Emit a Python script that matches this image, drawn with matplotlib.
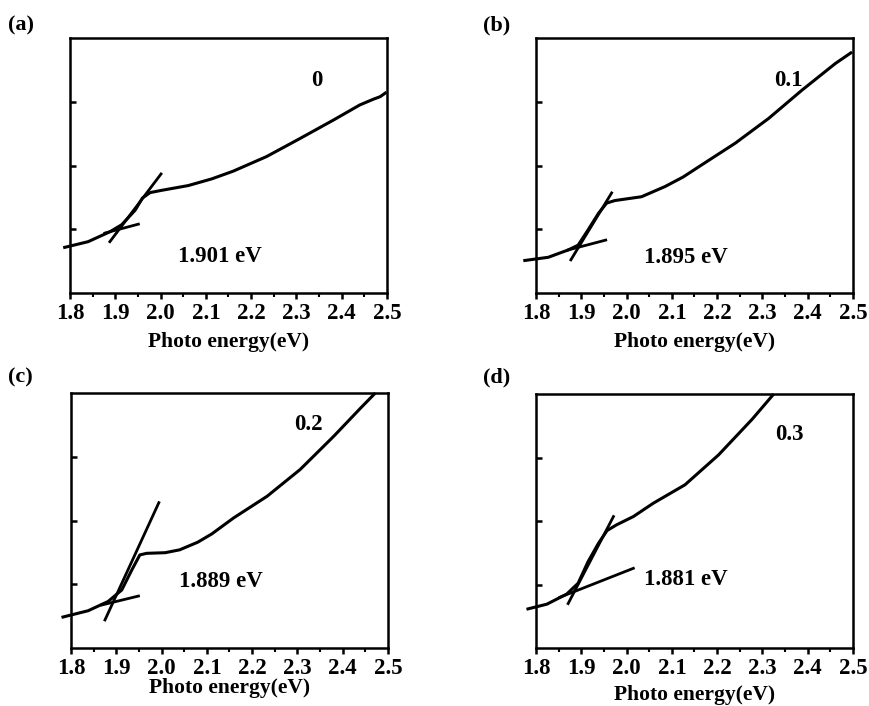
import matplotlib.pyplot as plt
import numpy as np

plt.rcParams['font.family'] = ['Liberation Serif', 'DejaVu Serif']
plt.rcParams['font.weight'] = 'bold'

# absorption curves, (x in eV, y in arbitrary units 0-4)
x_a = [1.785, 1.840, 1.888, 1.914, 1.944, 1.960, 1.977, 2.002, 2.061, 2.113, 2.16,
       2.234, 2.307, 2.381, 2.44, 2.47, 2.485, 2.499]
y_a = [0.71, 0.805, 0.96, 1.07, 1.30, 1.49, 1.575, 1.61, 1.685, 1.79, 1.91,
       2.14, 2.42, 2.71, 2.95, 3.04, 3.08, 3.15]

x_b = [1.772, 1.827, 1.871, 1.893, 1.915, 1.938, 1.956, 1.974, 2.033, 2.085, 2.125,
       2.166, 2.24, 2.314, 2.387, 2.461, 2.498]
y_b = [0.507, 0.56, 0.675, 0.75, 0.99, 1.25, 1.41, 1.45, 1.51, 1.67, 1.82,
       2.01, 2.35, 2.74, 3.18, 3.60, 3.78]

x_c = [1.779, 1.838, 1.882, 1.912, 1.934, 1.952, 1.967, 2.008, 2.04, 2.08, 2.111,
       2.159, 2.233, 2.306, 2.38, 2.439, 2.472]
y_c = [0.48, 0.585, 0.73, 0.91, 1.22, 1.46, 1.485, 1.495, 1.54, 1.66, 1.79,
       2.04, 2.38, 2.80, 3.32, 3.76, 4.0]

x_d = [1.779, 1.824, 1.868, 1.893, 1.915, 1.938, 1.957, 1.978, 2.015, 2.059, 2.129,
       2.203, 2.277, 2.325]
y_d = [0.61, 0.69, 0.85, 1.02, 1.36, 1.65, 1.85, 1.94, 2.07, 2.28, 2.57,
       3.04, 3.60, 4.0]

# tangent lines: (x0, x1, y0, y1)
steep = [(1.888, 2.001, 0.805, 1.867), (1.877, 1.967, 0.52, 1.57),
         (1.875, 1.994, 0.44, 2.28), (1.871, 1.971, 0.70, 2.07)]
base = [(1.877, 1.951, 0.94, 1.08), (1.871, 1.954, 0.675, 0.83),
        (1.868, 1.949, 0.675, 0.815), (1.853, 2.015, 0.80, 1.255)]

fractions = ['0', '0.1', '0.2', '0.3']
gaps = ['1.901 eV', '1.895 eV', '1.889 eV', '1.881 eV']
frac_pos = [(2.344, 3.34), (2.358, 3.34), (2.325, 3.5), (2.36, 3.36)]
gap_pos = [(2.131, 0.57), (2.13, 0.55), (2.13, 1.05), (2.13, 1.08)]
letters = ['(a)', '(b)', '(c)', '(d)']

curves = [(x_a, y_a), (x_b, y_b), (x_c, y_c), (x_d, y_d)]

W, H = 870, 706
# axes boxes in pixels: left, top, right, bottom
boxes = [(70, 38, 387, 293), (536, 38, 853, 293),
         (71, 393, 388, 648), (536, 394, 853, 648)]
letter_px = [(8, 25), (483, 25), (8, 377), (483, 377)]
xlabel_top = [332, 332, 678, 685]

fig = plt.figure(figsize=(W / 100, H / 100), dpi=100)

for i in range(4):
    l, t, r, b = boxes[i]
    ax = fig.add_axes([l / W, 1 - b / H, (r - l) / W, (b - t) / H])
    xs, ys = curves[i]
    ax.plot(xs, ys, color='black', lw=2.2, clip_on=False,
            solid_joinstyle='round', solid_capstyle='butt')
    x0, x1, y0, y1 = steep[i]
    ax.plot([x0, x1], [y0, y1], color='black', lw=2.0)
    x0, x1, y0, y1 = base[i]
    ax.plot([x0, x1], [y0, y1], color='black', lw=2.0)

    ax.set_xlim(1.8, 2.5)
    ax.set_ylim(0, 4)
    ticks = np.arange(1.8, 2.51, 0.1)
    ax.set_xticks(ticks)
    ax.set_xticks(np.arange(1.85, 2.5, 0.1), minor=True)
    ax.set_xticklabels([f'{v:.1f}' for v in ticks])
    ax.set_yticks([1, 2, 3])
    ax.set_yticklabels([])
    ax.tick_params(axis='x', which='major', direction='out', length=4, width=1.8,
                   labelsize=16.5, pad=3)
    ax.tick_params(axis='x', which='minor', direction='out', length=3, width=1.5)
    ax.tick_params(axis='y', which='major', direction='in', length=4, width=1.8)
    for s in ax.spines.values():
        s.set_linewidth(1.8)

    ax.set_xlabel('Photo energy(eV)', fontsize=15.5, fontweight='bold')
    ax.xaxis.set_label_coords(0.5, -(xlabel_top[i] - b) / (b - t))
    ax.text(*frac_pos[i], fractions[i], fontsize=16.5, fontweight='bold',
            ha='center', va='center')
    ax.text(*gap_pos[i], gaps[i], fontsize=16.5, fontweight='bold',
            ha='center', va='center')

    lx, ly = letter_px[i]
    fig.text(lx / W, 1 - ly / H, letters[i], fontsize=16, fontweight='bold',
             ha='left', va='center')

fig.savefig('out.png', dpi=100)
